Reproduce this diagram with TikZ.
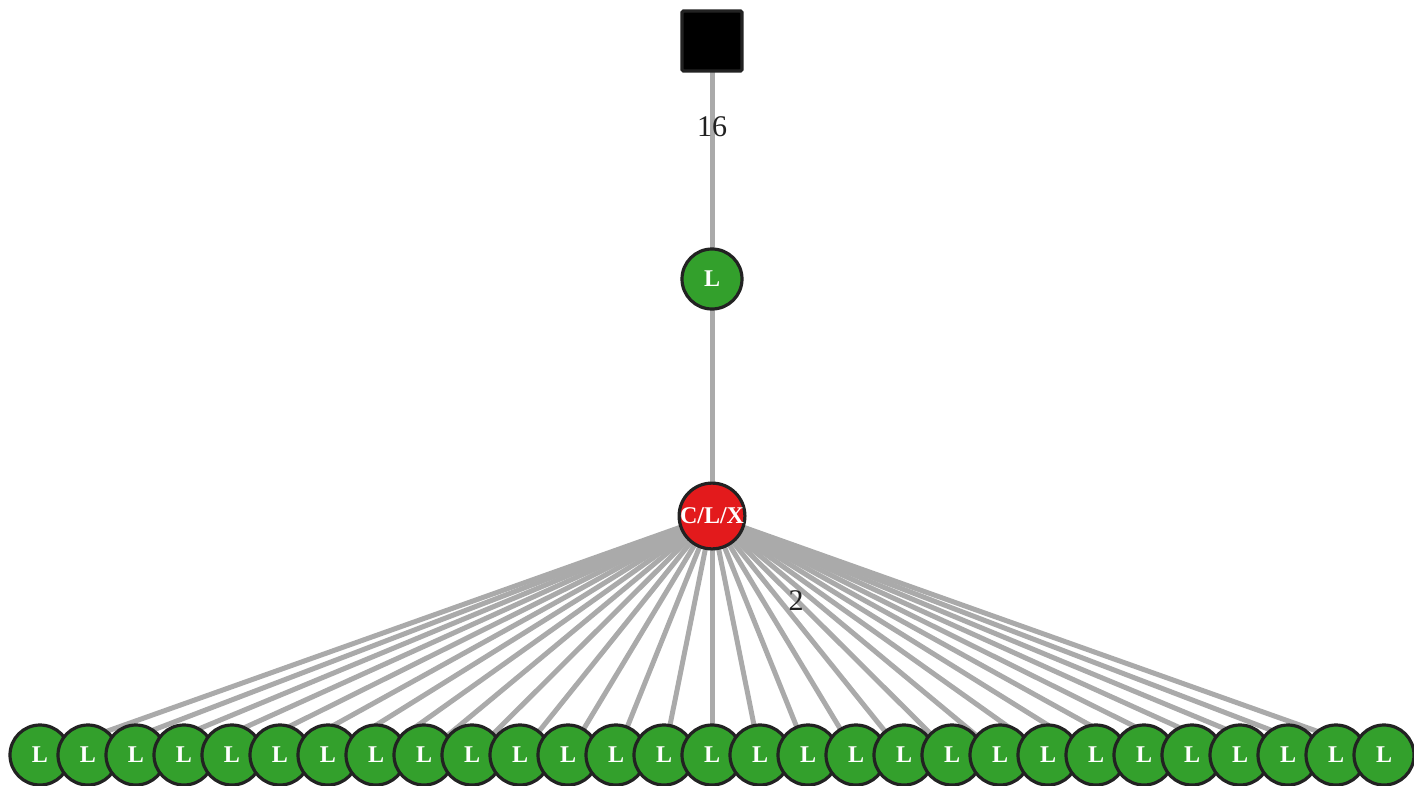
\documentclass[tikz,border=0pt]{standalone}
\usepackage{fontspec}
\setmainfont{Liberation Serif}
\begin{document}
\begin{tikzpicture}[x=1pt,y=-1pt,
  edge/.style={draw=black!33, line width=5pt},
  gnode/.style={circle, draw=black!87, line width=3.2pt, fill=green!60!black!75!lime, minimum size=60pt, inner sep=0pt, text=white, font=\fontsize{24}{24}\selectfont\bfseries},
  rnode/.style={gnode, fill=red!90!black},
  snode/.style={rectangle, rounded corners=1.5pt, draw=black!87, line width=3.2pt, fill=black, minimum size=60pt, inner sep=0pt},
  elabel/.style={text=black!87, font=\fontsize{30}{30}\selectfont, inner sep=0pt}]
\useasboundingbox (0,0) rectangle (1414,785);
\definecolor{gfill}{HTML}{33A02C}
\definecolor{rfill}{HTML}{E31A1C}
\definecolor{edgec}{HTML}{AAAAAA}
\definecolor{linec}{HTML}{222222}
\tikzset{edge/.append style={draw=edgec}, gnode/.append style={fill=gfill, draw=linec}, rnode/.append style={fill=rfill}, snode/.append style={draw=linec}}
\coordinate (ps) at (712,41);
\coordinate (pm) at (712,279);
\coordinate (pr) at (712,516);
\foreach \i in {0,...,28} {
  \coordinate (pb\i) at ({712+48*(\i-14)},755);
}
\draw[edge] (ps) -- (pm);
\draw[edge] (pm) -- (pr);
\foreach \i in {0,...,28} {
  \draw[edge] (pr) -- (pb\i);
}
\node[snode] (s) at (ps) {};
\node[gnode] (m) at (pm) {L};
\node[rnode] (r) at (pr) {C/L/X};
\foreach \i in {0,...,28} {
  \node[gnode] (b\i) at (pb\i) {L};
}
\node[elabel] (l16) at (712,127) {16};
\node[elabel] (l2) at (796,601) {2};
\end{tikzpicture}
\end{document}
